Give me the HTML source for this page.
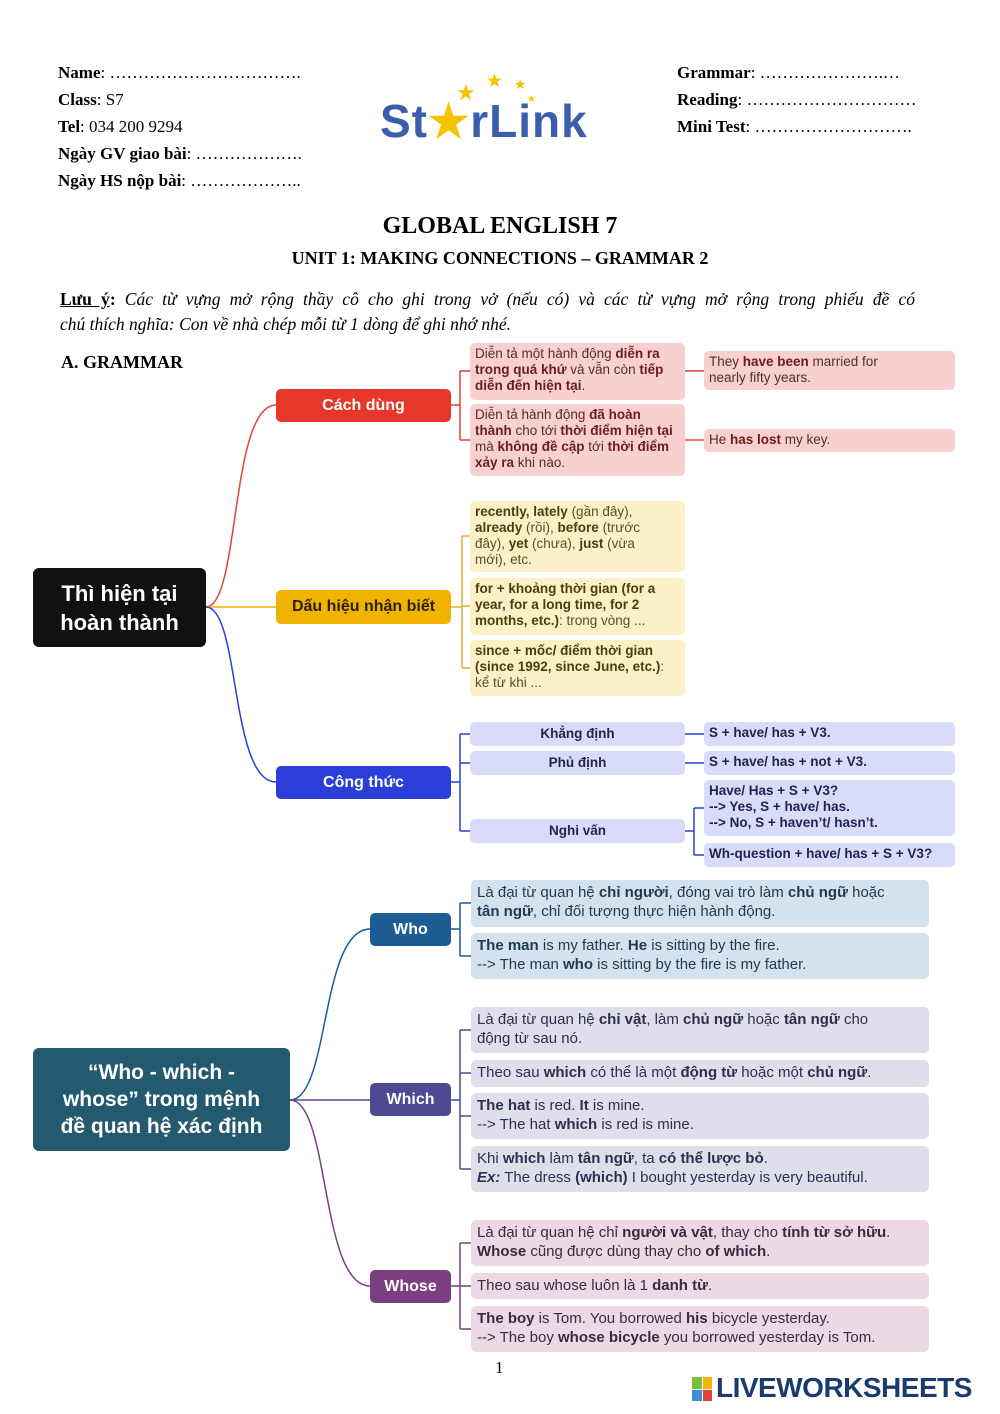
<!DOCTYPE html>
<html><head><meta charset="utf-8"><style>
*{margin:0;padding:0;box-sizing:border-box}
body{width:1000px;height:1414px;background:#fff;position:relative;overflow:hidden;font-family:"Liberation Sans",sans-serif}
.a{position:absolute}
.s{font-family:"Liberation Serif",serif;font-size:17px;color:#000;line-height:27px}
.bx{position:absolute;border-radius:5px;font-size:13.5px;line-height:16px;padding:3px 5px;color:#333}
.nd{position:absolute;border-radius:5px;color:#fff;font-weight:bold;font-size:16px;display:flex;align-items:center;justify-content:center;text-align:center}
.r{background:#f9d0d0;color:#5a2a2a}.r b{color:#6b1d1d}
.y{background:#fcf0c6;color:#5a4d2a}.y b{color:#4a3e10}
.bl{background:#d9dcf8;color:#1e2350;font-weight:bold}
.w{background:#d3e2ec;color:#1f3a52;font-size:15px;line-height:19px;padding:3px 6px}
.h{background:#dfdfeb;color:#2e2e50;font-size:15px;line-height:19px;padding:3px 6px}
.p{background:#ebd9e5;color:#3e2840;font-size:15px;line-height:19px;padding:3px 6px}
.c{display:flex;align-items:center;justify-content:center}
</style></head><body>
<div class="a s" style="left:58px;top:59px">
<b>Name</b>: …………………………….<br><b>Class</b>: S7<br><b>Tel</b>: 034 200 9294<br><b>Ngày GV giao bài</b>: ……………….<br><b>Ngày HS nộp bài</b>: ………………..
</div>
<div class="a s" style="left:677px;top:59px">
<b>Grammar</b>: ………………….…<br><b>Reading</b>: …………………………<br><b>Mini Test</b>: ……………………….
</div>
<div class="a" style="left:380px;top:94px;font-size:46px;font-weight:bold;color:#3a5eab;letter-spacing:1px">St<span style="color:#f5c400">★</span>rLink</div>
<div class="a" style="left:456px;top:80px;color:#f5c400;font-size:22px">★</div>
<div class="a" style="left:486px;top:70px;color:#f5c400;font-size:19px">★</div>
<div class="a" style="left:514px;top:76px;color:#f5c400;font-size:14px">★</div>
<div class="a" style="left:527px;top:94px;color:#f5c400;font-size:10px">★</div>
<div class="a" style="left:0;width:1000px;top:213px;text-align:center;font-family:'Liberation Serif',serif;font-weight:bold;font-size:24px">GLOBAL ENGLISH 7</div>
<div class="a" style="left:0;width:1000px;top:248px;text-align:center;font-family:'Liberation Serif',serif;font-weight:bold;font-size:18px">UNIT 1: MAKING CONNECTIONS – GRAMMAR 2</div>
<div class="a" style="left:60px;top:287px;width:855px;font-family:'Liberation Serif',serif;font-size:17.5px;line-height:25px">
<div style="text-align:justify;text-align-last:justify"><b><u>Lưu ý</u>:</b> <i>Các từ vựng mở rộng thầy cô cho ghi trong vở (nếu có) và các từ vựng mở rộng trong phiếu đề có</i></div>
<div><i>chú thích nghĩa: Con về nhà chép mỗi từ 1 dòng để ghi nhớ nhé.</i></div></div>
<div class="a" style="left:61px;top:352px;font-family:'Liberation Serif',serif;font-weight:bold;font-size:18px">A. GRAMMAR</div>

<svg class="a" style="left:0;top:0" width="1000" height="1414" fill="none" stroke-width="1.5">
<g stroke="#e0443a"><path d="M206 607 C240 607 230 405 276 405"/><path d="M451 405 H460 M460 371 V440 M460 371 H470 M460 440 H470 M685 371 H704 M685 440 H704"/></g>
<path d="M206 607 H276" stroke="#f0b400"/>
<g stroke="#e0b030"><path d="M451 607 H462 M462 536 V668 M462 536 H470 M462 606 H470 M462 668 H470"/></g>
<g stroke="#2b3fd8"><path d="M206 607 C240 607 230 782 276 782"/><path d="M451 782 H460 M460 734 V831 M460 734 H470 M460 763 H470 M460 831 H470 M685 734 H704 M685 763 H704 M685 831 H694 M694 808 V855 M694 808 H704 M694 855 H704"/></g>
<g stroke="#1d5c94"><path d="M290 1100 C330 1100 320 929 370 929"/><path d="M451 929 H460 M460 903 V956 M460 903 H471 M460 956 H471"/></g>
<g stroke="#4b4a93"><path d="M290 1100 H370 M451 1100 H460 M460 1030 V1169 M460 1030 H471 M460 1073 H471 M460 1116 H471 M460 1169 H471"/></g>
<g stroke="#7a3f7e"><path d="M290 1100 C330 1100 320 1286 370 1286"/><path d="M451 1286 H471 M460 1243 V1329 M460 1243 H471 M460 1329 H471"/></g>
</svg>

<div class="nd" style="left:33px;top:568px;width:173px;height:79px;background:#111;font-size:22px;line-height:29px;border-radius:6px">Thì hiện tại<br>hoàn thành</div>
<div class="nd" style="left:276px;top:389px;width:175px;height:33px;background:#e6372a">Cách dùng</div>
<div class="nd" style="left:276px;top:590px;width:175px;height:34px;background:#f0b400;color:#2a2000">Dấu hiệu nhận biết</div>
<div class="nd" style="left:276px;top:766px;width:175px;height:33px;background:#2b3fd8">Công thức</div>

<div class="bx r" style="left:470px;top:343px;width:215px;height:57px">Diễn tả một hành động <b>diễn ra trong quá khứ</b> và vẫn còn <b>tiếp diễn đến hiện tại</b>.</div>
<div class="bx r" style="left:470px;top:404px;width:215px;height:72px">Diễn tả hành động <b>đã hoàn thành</b> cho tới <b>thời điểm hiện tại</b> mà <b>không đề cập</b> tới <b>thời điểm xảy ra</b> khi nào.</div>
<div class="bx r" style="left:704px;top:351px;width:251px;height:39px;padding-right:40px">They <b>have been</b> married for nearly fifty years.</div>
<div class="bx r" style="left:704px;top:429px;width:251px;height:23px">He <b>has lost</b> my key.</div>

<div class="bx y" style="left:470px;top:501px;width:215px;height:71px;padding-right:20px"><b>recently, lately</b> (gần đây), <b>already</b> (rồi), <b>before</b> (trước đây), <b>yet</b> (chưa), <b>just</b> (vừa mới), etc.</div>
<div class="bx y" style="left:470px;top:578px;width:215px;height:57px"><b>for + khoảng thời gian (for a year, for a long time, for 2 months, etc.)</b>: trong vòng ...</div>
<div class="bx y" style="left:470px;top:640px;width:215px;height:56px;padding-right:20px"><b>since + mốc/ điểm thời gian (since 1992, since June, etc.)</b>: kể từ khi ...</div>

<div class="bx bl c" style="left:470px;top:722px;width:215px;height:24px">Khẳng định</div>
<div class="bx bl c" style="left:470px;top:751px;width:215px;height:24px">Phủ định</div>
<div class="bx bl c" style="left:470px;top:819px;width:215px;height:24px">Nghi vấn</div>
<div class="bx bl" style="left:704px;top:722px;width:251px;height:24px">S + have/ has + V3.</div>
<div class="bx bl" style="left:704px;top:751px;width:251px;height:24px">S + have/ has + not + V3.</div>
<div class="bx bl" style="left:704px;top:780px;width:251px;height:56px">Have/ Has + S + V3?<br>--&gt; Yes, S + have/ has.<br>--&gt; No, S + haven’t/ hasn’t.</div>
<div class="bx bl" style="left:704px;top:843px;width:251px;height:24px">Wh-question + have/ has + S + V3?</div>

<div class="nd" style="left:33px;top:1048px;width:257px;height:103px;background:#245a70;font-size:21px;line-height:27px;border-radius:6px">“Who - which -<br>whose” trong mệnh<br>đề quan hệ xác định</div>
<div class="nd" style="left:370px;top:913px;width:81px;height:33px;background:#1d5c94">Who</div>
<div class="nd" style="left:370px;top:1083px;width:81px;height:33px;background:#4b4a93">Which</div>
<div class="nd" style="left:370px;top:1270px;width:81px;height:33px;background:#7a3f7e">Whose</div>

<div class="bx w" style="left:471px;top:880px;width:458px;height:47px;padding-right:25px">Là đại từ quan hệ <b>chỉ người</b>, đóng vai trò làm <b>chủ ngữ</b> hoặc <b>tân ngữ</b>, chỉ đối tượng thực hiện hành động.</div>
<div class="bx w" style="left:471px;top:933px;width:458px;height:46px"><b>The man</b> is my father. <b>He</b> is sitting by the fire.<br>--&gt; The man <b>who</b> is sitting by the fire is my father.</div>

<div class="bx h" style="left:471px;top:1007px;width:458px;height:46px;padding-right:25px">Là đại từ quan hệ <b>chỉ vật</b>, làm <b>chủ ngữ</b> hoặc <b>tân ngữ</b> cho động từ sau nó.</div>
<div class="bx h" style="left:471px;top:1060px;width:458px;height:27px">Theo sau <b>which</b> có thể là một <b>động từ</b> hoặc một <b>chủ ngữ</b>.</div>
<div class="bx h" style="left:471px;top:1093px;width:458px;height:46px"><b>The hat</b> is red. <b>It</b> is mine.<br>--&gt; The hat <b>which</b> is red is mine.</div>
<div class="bx h" style="left:471px;top:1146px;width:458px;height:46px">Khi <b>which</b> làm <b>tân ngữ</b>, ta <b>có thể lược bỏ</b>.<br><b><i>Ex:</i></b> The dress <b>(which)</b> I bought yesterday is very beautiful.</div>

<div class="bx p" style="left:471px;top:1220px;width:458px;height:46px">Là đại từ quan hệ chỉ <b>người và vật</b>, thay cho <b>tính từ sở hữu</b>.<br><b>Whose</b> cũng được dùng thay cho <b>of which</b>.</div>
<div class="bx p" style="left:471px;top:1273px;width:458px;height:26px">Theo sau whose luôn là 1 <b>danh từ</b>.</div>
<div class="bx p" style="left:471px;top:1306px;width:458px;height:46px"><b>The boy</b> is Tom. You borrowed <b>his</b> bicycle yesterday.<br>--&gt; The boy <b>whose bicycle</b> you borrowed yesterday is Tom.</div>

<div class="a" style="left:495px;top:1358px;font-family:'Liberation Serif',serif;font-size:17px">1</div>
<div class="a" style="left:692px;top:1377px;width:20px;height:24px;display:grid;grid-template-columns:1fr 1fr;gap:1px"><i style="background:#7cbd3a"></i><i style="background:#f5b400"></i><i style="background:#3a8fd8"></i><i style="background:#e5403a"></i></div>
<div class="a" style="left:716px;top:1372px;font-size:28px;font-weight:bold;color:#1b3b6f;letter-spacing:-0.5px">LIVEWORKSHEETS</div>
</body></html>
